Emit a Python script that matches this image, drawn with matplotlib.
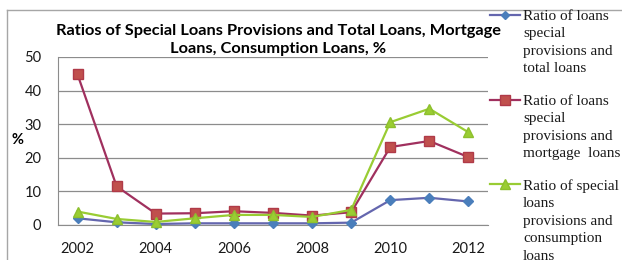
import matplotlib.pyplot as plt
from matplotlib.lines import Line2D

# data
years = [2002, 2003, 2004, 2005, 2006, 2007, 2008, 2009, 2010, 2011, 2012]
total_ratio = [2.0, 0.8, 0.3, 0.5, 0.5, 0.5, 0.5, 0.7, 7.4, 8.1, 7.0]
mortgage_ratio = [44.8, 11.5, 3.4, 3.5, 4.1, 3.6, 2.8, 3.8, 23.2, 25.0, 20.2]
consumption_ratio = [4.0, 1.8, 0.9, 2.0, 3.0, 3.0, 2.4, 4.5, 30.6, 34.6, 27.6]
labels = ['Ratio of loans\nspecial\nprovisions and\ntotal loans',
          'Ratio of loans\nspecial\nprovisions and\nmortgage  loans',
          'Ratio of special\nloans\nprovisions and\nconsumption\nloans']
title = 'Ratios of Special Loans Provisions and Total Loans, Mortgage\nLoans, Consumption Loans, %'

W, H = 622, 260
fig = plt.figure(figsize=(W / 100, H / 100), dpi=100)
ax = fig.add_axes([58 / W, 1 - 225 / H, 430 / W, 168 / H])

styles = [
    dict(color='#6466AE', marker='D', ms=5.5, mfc='#4A7EBB', mec='#4A7EBB'),
    dict(color='#A0305E', marker='s', ms=7.5, mfc='#C0504D', mec='#B03A48'),
    dict(color='#99CC33', marker='^', ms=7.5, mfc='#9ACD32', mec='#8DBF2E'),
]
series = [total_ratio, mortgage_ratio, consumption_ratio]
for vals, st in zip(series, styles):
    ax.plot(years, vals, lw=1.6, zorder=3, clip_on=False, **st)

ax.set_xlim(2001.5, 2012.5)
ax.set_ylim(0, 50)
ax.set_xticks(range(2002, 2013, 2))
ax.set_yticks(range(0, 51, 10))
ax.yaxis.grid(True, color='#8C8C8C', lw=0.9)
ax.set_axisbelow(True)
for s in ['top', 'right']:
    ax.spines[s].set_visible(False)
for s in ['left', 'bottom']:
    ax.spines[s].set_color('#8C8C8C')
ax.tick_params(axis='y', length=0, labelsize=10.5, pad=12)
ax.tick_params(axis='x', length=0, labelsize=10.5, pad=12)
for lab in ax.get_xticklabels() + ax.get_yticklabels():
    lab.set_family('Lato')
    lab.set_color('#1a1a1a')

fig.text(17 / W, 1 - 140 / H, '%', ha='center', va='center', fontsize=10.5,
         fontweight='bold', family='Lato')
fig.text(278 / W, 1 - 24 / H, title, ha='center', va='top', fontsize=11.8,
         fontweight='bold', family='Lato', linespacing=1.38)

# legend drawn by hand so wrapped labels line up with the first text row
ys = [15, 100, 184]
for y, st, lab in zip(ys, styles, labels):
    yy = 1 - y / H
    fig.add_artist(Line2D([490 / W, 520 / W], [yy, yy], lw=1.6,
                          transform=fig.transFigure, color=st['color']))
    fig.add_artist(Line2D([505 / W], [yy], transform=fig.transFigure, lw=0,
                          marker=st['marker'], ms=st['ms'] - 1, mfc=st['mfc'], mec=st['mec']))
    fig.text(523 / W, yy + 5 / H, lab, ha='left', va='top', fontsize=11,
             family='Liberation Serif', linespacing=1.45, color='#1a1a1a')

# chart frame (top and left edges visible)
fig.add_artist(Line2D([7 / W, 7 / W], [0, 1 - 10 / H], transform=fig.transFigure,
                      color='#A6A6A6', lw=1))
fig.add_artist(Line2D([7 / W, 1], [1 - 10 / H, 1 - 10 / H], transform=fig.transFigure,
                      color='#A6A6A6', lw=1))

fig.savefig('out.png', dpi=100)
